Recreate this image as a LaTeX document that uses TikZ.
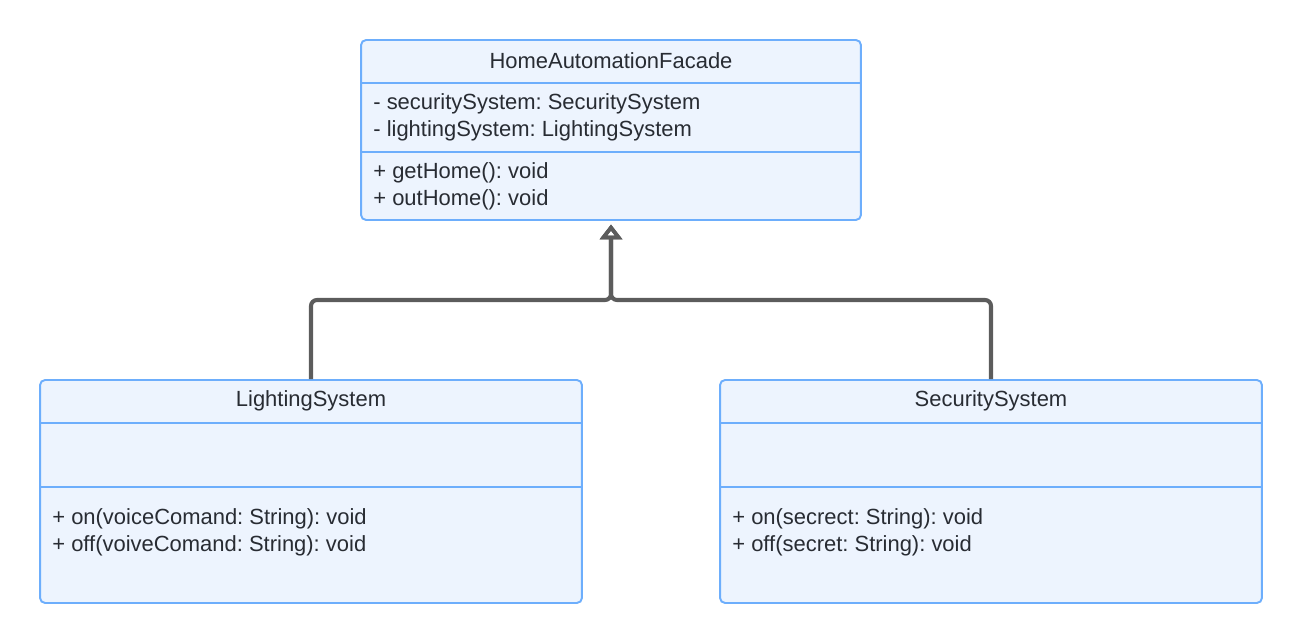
\documentclass[tikz,border=0pt]{standalone}
\usepackage{fontspec}
\setmainfont{Liberation Sans}
\usetikzlibrary{arrows.meta,positioning}
\definecolor{boxclr}{HTML}{EDF4FE}
\definecolor{edgeclr}{HTML}{6DAEFC}
\definecolor{txtclr}{HTML}{282C33}
\definecolor{linkclr}{HTML}{5C5C5C}
\frenchspacing
\tikzset{ %
  ,every node/.style={font=\fontsize{12.5}{15.4}\selectfont, text=txtclr}
  ,cls/.style={draw=edgeclr, fill=boxclr, line width=1.1pt, rounded corners=0.1cm, inner sep=0}
  ,divider/.style={draw=edgeclr, line width=1.1pt}
  ,member/.style={inner sep=0, align=left, anchor=west}
  ,inherit/.style={draw=linkclr, line width=2.3pt, rounded corners=0.12cm,
                   -{Triangle[open, length=8.5pt, width=12.5pt]}}
}

\begin{document}
\begin{tikzpicture}[x=0.02cm, y=-0.02cm]
  \useasboundingbox (0,0) rectangle (1303,644);
  % facade
  \node[cls, minimum width=10cm, minimum height=3.6cm] (fac) at (611,130) {};
  \node (facT) at (611,61) {HomeAutomationFacade};
  \draw[divider] (fac.west |- 0,83) -- (fac.east |- 0,83);
  \draw[divider] (fac.west |- 0,152) -- (fac.east |- 0,152);
  \node[member] (facA) at (373,117) {- securitySystem: SecuritySystem\\- lightingSystem: LightingSystem};
  \node[member] (facM) at (373,186) {+ getHome(): void\\+ outHome(): void};
  % subsystems
  \node[cls, minimum width=10.84cm, minimum height=4.46cm] (light) at (311,491.5) {};
  \node (lightT) at (311,401) {LightingSystem};
  \draw[divider] (light.west |- 0,423) -- (light.east |- 0,423);
  \draw[divider] (light.west |- 0,487) -- (light.east |- 0,487);
  \node[member] (lightM) at (52,532) {+ on(voiceComand: String): void\\+ off(voiveComand: String): void};
  \node[cls, minimum width=10.84cm, minimum height=4.46cm] (sec) at (991,491.5) {};
  \node (secT) at (991,401) {SecuritySystem};
  \draw[divider] (sec.west |- 0,423) -- (sec.east |- 0,423);
  \draw[divider] (sec.west |- 0,487) -- (sec.east |- 0,487);
  \node[member] (secM) at (732,532) {+ on(secrect: String): void\\+ off(secret: String): void};
  % generalisation
  \coordinate (join) at (611,300);
  \draw[inherit, shorten >=2pt] (light.north) |- (join) -- (fac.south);
  \draw[inherit, shorten >=2pt] (sec.north) |- (join) -- (fac.south);
\end{tikzpicture}
\end{document}
